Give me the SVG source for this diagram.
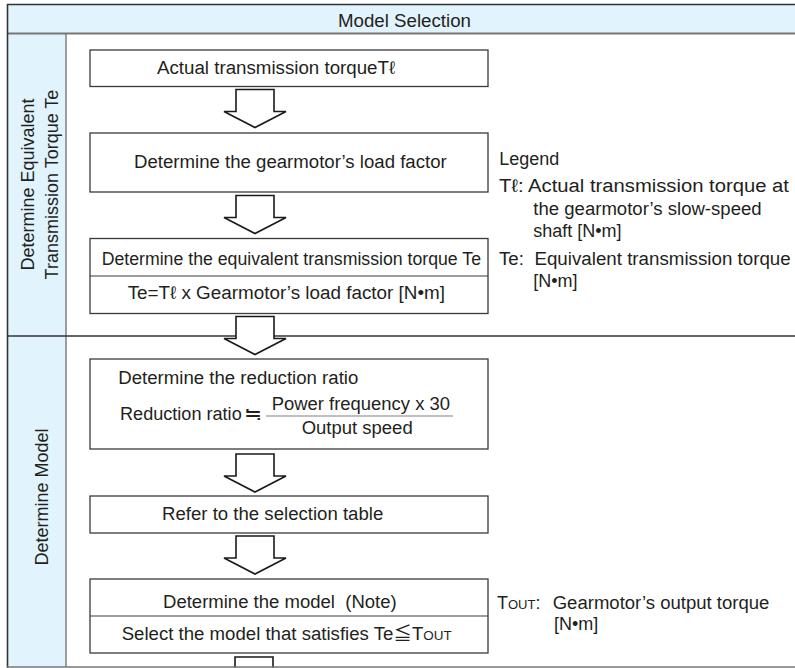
<svg xmlns="http://www.w3.org/2000/svg" width="795" height="668" viewBox="0 0 795 668">
<style>
text{font-family:"Liberation Sans","Noto Sans CJK JP",sans-serif;font-size:18px;fill:#231f20}
.box{fill:#fff;stroke:#3a3a3a;stroke-width:1.3}
.div{stroke:#3a3a3a;stroke-width:1.2}
.arrow{fill:#fff;stroke:#1a1a1a;stroke-width:1.6;stroke-linejoin:miter}
.band{fill:#e1f3fd}
</style>
<defs>
<path id="blk" d="M236,0 H274 V22 H286 L255,38 L224,22 H236 Z"/>
</defs>
<rect x="0" y="0" width="795" height="668" fill="#fff"/>
<g id="frame">
<rect class="band" x="7" y="4" width="788" height="29"/>
<rect class="band" x="7" y="33" width="59" height="634"/>
<line x1="7" y1="4.5" x2="795" y2="4.5" stroke="#333" stroke-width="1.6"/>
<line x1="7" y1="33.5" x2="795" y2="33.5" stroke="#777" stroke-width="1.8"/>
<line x1="7.5" y1="4" x2="7.5" y2="668" stroke="#333" stroke-width="1.6"/>
<line x1="66" y1="33" x2="66" y2="667" stroke="#777" stroke-width="1.4"/>
<line x1="7" y1="336" x2="795" y2="336" stroke="#333" stroke-width="1.4"/>
<text x="338" y="27" textLength="133" lengthAdjust="spacingAndGlyphs">Model Selection</text>
</g>
<g id="lane1">
<text transform="translate(34,184.5) rotate(-90)" text-anchor="middle">Determine Equivalent</text>
<text transform="translate(57.5,184.5) rotate(-90)" text-anchor="middle">Transmission Torque Te</text>
</g>
<g id="lane2">
<text transform="translate(48,497) rotate(-90)" text-anchor="middle">Determine Model</text>
</g>
<g id="connectors">
<use href="#blk" class="arrow" transform="translate(0,89.5)"/>
<use href="#blk" class="arrow" transform="translate(0,195.5)"/>
<use href="#blk" class="arrow" transform="translate(0,316.5)"/>
<use href="#blk" class="arrow" transform="translate(0,454)"/>
<use href="#blk" class="arrow" transform="translate(0,536)"/>
<use href="#blk" class="arrow" transform="translate(-1,657)"/>
</g>
<g id="n1">
<rect class="box" x="90" y="50" width="398" height="36.5"/>
<text x="157" y="74" textLength="238" lengthAdjust="spacingAndGlyphs">Actual transmission torqueTℓ</text>
</g>
<g id="n2">
<rect class="box" x="90" y="133" width="398" height="59"/>
<text x="134" y="168" textLength="312.7" lengthAdjust="spacingAndGlyphs">Determine the gearmotor’s load factor</text>
</g>
<g id="n3">
<rect class="box" x="90" y="238.5" width="398" height="75"/>
<line class="div" x1="90" y1="276" x2="488" y2="276"/>
<text x="101.7" y="264.5" textLength="379.3" lengthAdjust="spacingAndGlyphs">Determine the equivalent transmission torque Te</text>
<text x="127.7" y="298.5" textLength="317.3" lengthAdjust="spacingAndGlyphs">Te=Tℓ x Gearmotor’s load factor [N•m]</text>
</g>
<g id="n4">
<rect class="box" x="90" y="359" width="398" height="90"/>
<text x="118.3" y="383.5" textLength="240" lengthAdjust="spacingAndGlyphs">Determine the reduction ratio</text>
<text x="120" y="420" textLength="121.7" lengthAdjust="spacingAndGlyphs">Reduction ratio</text>
<text x="244" y="420" textLength="18" lengthAdjust="spacingAndGlyphs">≒</text>
<line x1="266" y1="416" x2="453" y2="416" stroke="#808080" stroke-width="1.2"/>
<text x="271.7" y="410" textLength="178.3" lengthAdjust="spacingAndGlyphs">Power frequency x 30</text>
<text x="301.7" y="433.5" textLength="111" lengthAdjust="spacingAndGlyphs">Output speed</text>
</g>
<g id="n5">
<rect class="box" x="90" y="496" width="398" height="37"/>
<text x="162" y="519.5" textLength="221.3" lengthAdjust="spacingAndGlyphs">Refer to the selection table</text>
</g>
<g id="n6">
<rect class="box" x="90" y="579" width="398" height="74"/>
<line class="div" x1="90" y1="616" x2="488" y2="616"/>
<text x="163" y="608" xml:space="preserve" textLength="233.7" lengthAdjust="spacingAndGlyphs">Determine the model  (Note)</text>
<text x="121.7" y="639.5" textLength="330" lengthAdjust="spacingAndGlyphs">Select the model that satisfies Te≦T<tspan font-size="13">OUT</tspan></text>
</g>
<g id="legend">
<text x="499.3" y="164.5" textLength="60" lengthAdjust="spacingAndGlyphs">Legend</text>
<text x="499" y="191.5" textLength="290" lengthAdjust="spacingAndGlyphs">Tℓ: Actual transmission torque at</text>
<text x="533.3" y="215" textLength="228.3" lengthAdjust="spacingAndGlyphs">the gearmotor’s slow-speed</text>
<text x="533.3" y="237">shaft [N•m]</text>
<text x="499" y="265" xml:space="preserve" textLength="291.7" lengthAdjust="spacingAndGlyphs">Te:  Equivalent transmission torque</text>
<text x="533.3" y="287">[N•m]</text>
<text x="497" y="608.5">T<tspan font-size="13">OUT</tspan>:</text>
<text x="552.7" y="608.5" textLength="216.7" lengthAdjust="spacingAndGlyphs">Gearmotor’s output torque</text>
<text x="554" y="630">[N•m]</text>
</g>
<line x1="7" y1="667" x2="795" y2="667" stroke="#777" stroke-width="1.4"/>
</svg>
